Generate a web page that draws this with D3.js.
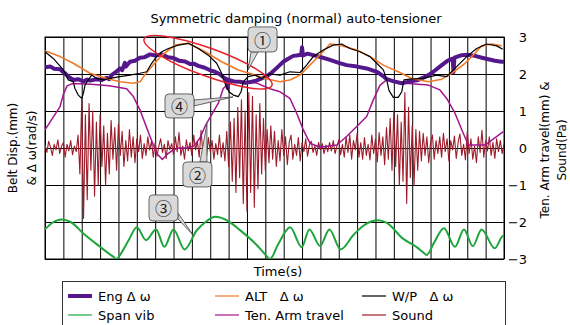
<!DOCTYPE html>
<html>
<head>
<meta charset="utf-8">
<script src="https://cdn.jsdelivr.net/npm/d3@7/dist/d3.min.js"></script>
<style>
  body { margin: 0; background: #fff; }
  svg { font-family: "DejaVu Sans", "Noto Sans", sans-serif; }
</style>
</head>
<body>
<div id="chart"></div>
<script>
// time is in grid divisions (25 of them), values on the right-hand scale
const yTicks = [3, 2, 1, 0, -1, -2, -3];
const timeTicks = d3.range(0, 26);

const engT = [0, 0.3, 0.5, 0.82, 1.0, 1.09, 1.3, 1.54, 1.8, 2.09, 2.3, 2.45, 2.8, 3.1, 3.36, 3.5, 3.63, 3.85, 4.08, 4.2, 4.35, 4.4, 4.63, 4.9, 5.17, 5.4, 5.72, 6.0, 6.36, 6.7, 7.0, 7.3, 7.63, 7.9, 8.1, 8.35, 8.7, 9.0, 9.26, 9.5, 9.8, 9.9, 9.95, 10.0, 10.3, 10.62, 10.9, 11.26, 11.5, 11.8, 12.1, 12.35, 12.7, 12.98, 13.2, 13.52, 13.7, 13.95, 14.0, 14.05, 14.3, 14.61, 15.0, 15.52, 16.0, 16.43, 17.0, 17.52, 18.07, 18.4, 18.61, 19.0, 19.43, 19.9, 20.33, 20.6, 20.88, 21.2, 21.61, 21.9, 22.2, 22.25, 22.3, 22.7, 23.0, 23.42, 23.8, 24.15, 24.5, 24.87, 25];
const engV = [2.18, 2.2, 2.14, 2.13, 2.05, 2.02, 1.92, 1.84, 1.86, 1.8, 1.85, 1.82, 1.86, 1.84, 1.9, 1.86, 1.97, 2.05, 2.15, 2.1, 2.3, 2.2, 2.33, 2.36, 2.44, 2.45, 2.53, 2.5, 2.53, 2.45, 2.43, 2.36, 2.34, 2.27, 2.28, 2.22, 2.17, 2.1, 2.06, 2.0, 1.88, 1.86, 1.62, 1.84, 1.8, 1.79, 1.76, 1.79, 1.82, 1.88, 1.95, 2.04, 2.2, 2.33, 2.4, 2.49, 2.5, 2.52, 2.72, 2.5, 2.55, 2.51, 2.46, 2.38, 2.3, 2.24, 2.2, 2.15, 2.06, 1.95, 1.86, 1.8, 1.75, 1.8, 1.84, 1.9, 1.97, 2.08, 2.24, 2.35, 2.42, 2.05, 2.44, 2.51, 2.52, 2.49, 2.44, 2.4, 2.36, 2.33, 2.33];

const altT = [0, 0.82, 1.54, 2.45, 3.36, 4.08, 4.81, 5.2, 5.4, 5.72, 6.08, 6.36, 7.08, 7.8, 8.72, 9.62, 10.53, 11.44, 12.16, 12.8, 13.34, 13.89, 14.61, 15.14, 15.52, 16.06, 16.98, 17.7, 18.43, 19.24, 19.97, 20.88, 21.61, 22.15, 22.88, 23.42, 23.78, 24.33, 24.87];
const altV = [2.63, 2.47, 2.29, 2.02, 1.88, 1.79, 1.75, 1.8, 1.95, 2.15, 2.35, 2.5, 2.78, 2.83, 2.6, 2.33, 2.11, 1.97, 1.86, 1.79, 1.84, 1.97, 2.33, 2.6, 2.81, 2.78, 2.65, 2.47, 2.24, 2.06, 1.88, 1.79, 1.86, 2.02, 2.29, 2.56, 2.76, 2.81, 2.76];

const wpT = [0, 0.45, 1.0, 1.27, 1.54, 1.63, 1.81, 2.0, 2.09, 2.18, 2.36, 2.54, 2.82, 3.18, 3.54, 4.08, 4.63, 5.17, 5.54, 5.81, 6.08, 6.36, 6.72, 7.26, 7.81, 8.35, 8.89, 9.35, 9.62, 9.8, 10.02, 10.26, 10.53, 10.68, 10.8, 11.07, 11.44, 11.8, 12.25, 12.8, 13.34, 13.89, 14.25, 14.61, 15.16, 15.7, 16.16, 16.61, 17.16, 17.7, 18.07, 18.43, 18.61, 18.74, 18.97, 19.24, 19.43, 19.55, 19.88, 20.6, 21.33, 21.88, 22.42, 22.97, 23.51, 24.06, 24.6, 24.93];
const wpV = [2.6, 2.42, 2.11, 1.84, 1.79, 1.61, 1.43, 1.34, 1.48, 1.7, 1.84, 1.97, 1.88, 1.84, 1.88, 1.93, 1.97, 2.02, 2.06, 2.29, 2.47, 2.6, 2.69, 2.78, 2.83, 2.69, 2.51, 2.29, 2.02, 1.75, 1.52, 1.43, 1.39, 1.52, 1.79, 1.93, 1.97, 1.88, 2.0, 1.97, 2.06, 2.04, 2.24, 2.47, 2.65, 2.78, 2.81, 2.69, 2.6, 2.47, 2.29, 2.11, 1.84, 1.55, 1.37, 1.37, 1.52, 1.84, 1.86, 1.88, 1.97, 1.93, 2.2, 2.47, 2.69, 2.81, 2.76, 2.67];

const spanT = [0, 0.4, 0.9, 1.4, 2.09, 3.0, 3.5, 3.7, 3.9, 4.1, 4.6, 5.0, 5.5, 6.05, 6.5, 7.0, 7.6, 8.26, 8.8, 9.26, 10.0, 10.62, 11.53, 11.95, 12.25, 12.7, 13.35, 13.98, 14.4, 14.98, 15.49, 16.1, 16.8, 17.34, 17.8, 18.15, 18.6, 19.5, 20.3, 20.6, 20.79, 21.2, 21.73, 22.33, 22.82, 23.3, 23.78, 24.5, 24.87, 25];
const spanV = [-2.2, -2.02, -1.93, -2.0, -2.31, -2.67, -2.86, -2.93, -3.0, -2.88, -2.45, -2.14, -2.49, -2.2, -2.67, -2.2, -2.74, -2.23, -1.98, -1.86, -1.98, -2.22, -2.62, -2.85, -3.0, -2.6, -2.14, -2.68, -2.2, -2.65, -2.2, -2.74, -2.35, -2.1, -1.98, -1.95, -2.02, -2.45, -2.7, -2.82, -2.89, -2.55, -2.17, -2.67, -2.2, -2.65, -2.2, -2.71, -2.41, -2.35];

const armT = [0, 0.82, 1.0, 1.2, 1.5, 2.5, 3.5, 4.45, 4.8, 5.17, 5.72, 6.08, 6.39, 6.7, 6.99, 7.3, 7.72, 8.1, 8.44, 8.75, 9.44, 9.71, 10.0, 10.5, 11.5, 12.25, 12.8, 13.34, 13.71, 14.07, 14.43, 14.98, 15.89, 16.43, 16.98, 17.52, 17.88, 18.25, 18.61, 19.61, 20.88, 21.51, 21.88, 22.33, 22.78, 23.06, 23.97, 24.96];
const armV = [0.49, 1.12, 1.45, 1.68, 1.74, 1.72, 1.68, 1.6, 1.4, 1.03, 0.31, -0.14, -0.31, -0.15, -0.05, 0.0, 0.0, 0.05, 0.27, 0.62, 1.21, 1.61, 1.75, 1.8, 1.76, 1.6, 1.52, 1.34, 0.94, 0.49, 0.13, 0.02, 0.08, 0.31, 0.58, 0.85, 1.3, 1.7, 1.84, 1.75, 1.7, 1.57, 1.34, 0.94, 0.4, 0.08, 0.08, 0.44];

// sound pressure, equally spaced over the time axis
const soundV = [
  0.08, -0.12, 0.18, 0.02, -0.2, 0.1, -0.05, 0.22, -0.15, 0.05, 0.15, -0.25, 0.1, -0.08, 0.2, -0.18, 0.05, -0.1,
  0.35, -0.7, 1.3, -1.9, 0.9, -1.4, 1.2, -0.6, 1.0, -1.3, 0.7, -1.0,
  0.9, -0.5, 0.6, -1.0, 0.4, -0.7, 0.75, -0.3, 0.55, -0.6,
  0.65, -0.2, 0.45, -0.5, 0.2, -0.35, 0.5, -0.25, 0.3, -0.4,
  0.25, -0.1, 0.35, -0.28, 0.12, -0.2, 0.3, -0.05, 0.18, -0.25,
  0.15, -0.22, 0.05, 0.25, -0.12, 0.1, -0.28, 0.2, -0.05, 0.12,
  -0.18, 0.3, -0.1, 0.42, -0.2, 0.05, -0.3, 0.22, -0.08, 0.15,
  -0.2, 0.35, -0.05, 0.18, -0.25, 0.48, -0.15, 0.1, -0.22, 0.28,
  -0.1, 0.2, -0.3, 0.12, -0.18, 0.35, -0.25, 0.15, -0.35, 0.45,
  -0.5, 0.7, -0.9, 0.8, -1.2, 1.1, -0.8, 1.3, -1.5, 1.0, -1.7, 1.5, -1.2, 1.4, -1.6, 0.9, -1.1, 1.2, -0.7, 0.8, -0.6, 0.5, -0.4, 0.6, -0.3,
  0.45, -0.5, 0.2, -0.35, 0.5, -0.2, 0.3, -0.45, 0.15, 0.35,
  -0.3, 0.1, -0.2, 0.28, -0.35, 0.15, -0.1, 0.25, -0.22, 0.08,
  0.18, -0.12, 0.05, -0.2, 0.15, -0.05, 0.12, -0.15, 0.08, -0.1,
  0.15, -0.08, 0.2, -0.15, 0.05, 0.22, -0.18, 0.1, -0.25, 0.3,
  -0.12, 0.35, -0.3, 0.2, -0.05, 0.4, -0.25, 0.15, -0.3, 0.28,
  -0.2, 0.1, -0.32, 0.35, -0.15, 0.25, -0.38, 0.42, -0.2, 0.3,
  -0.45, 0.55, -0.3, 0.8, -0.6, 1.0, -0.5, 0.9, -1.0, 0.7, -0.9, 1.5, -1.5, 1.1, -0.8, 0.6, -1.0, 0.5, -0.6, 0.45, -0.35,
  0.4, -0.2, 0.3, -0.4, 0.15, 0.35, -0.3, 0.2, -0.15, 0.3,
  -0.25, 0.4, -0.1, 0.25, -0.35, 0.2, -0.05, 0.32, -0.28, 0.15,
  0.38, -0.2, 0.1, -0.32, 0.45, -0.15, 0.25, -0.3, 0.05, -0.4,
  0.3, -0.12, 0.48, -0.25, 0.2, -0.08, 0.3, -0.2, 0.15, -0.28,
  0.25, -0.1, 0.2, -0.15, 0.1
];

const series = [
  { name: "Sound", t: d3.range(soundV.length).map(i => i * 25 / (soundV.length - 1)), v: soundV, color: "#9e1b2a", width: 1.1, curve: d3.curveLinear },
  { name: "Span vib", t: spanT, v: spanV, color: "#1ea53c", width: 2, curve: d3.curveMonotoneX },
  { name: "Ten. Arm travel", t: armT, v: armV, color: "#a3168f", width: 1.5, curve: d3.curveLinear },
  { name: "Eng", t: engT, v: engV, color: "#55188c", width: 4, curve: d3.curveLinear },
  { name: "ALT", t: altT, v: altV, color: "#f07828", width: 1.6, curve: d3.curveLinear },
  { name: "W/P", t: wpT, v: wpV, color: "#000000", width: 1.2, curve: d3.curveLinear }
];

const margin = { top: 37, right: 66, bottom: 66, left: 45 };
const width = 570 - margin.left - margin.right;
const height = 325 - margin.top - margin.bottom;

const root = d3.select("#chart")
  .append("svg")
  .attr("width", 570)
  .attr("height", 325);

const svg = root.append("g")
  .attr("transform", "translate(" + margin.left + "," + margin.top + ")");

const x = d3.scaleLinear().domain([0, 25]).range([0, width]);
const y = d3.scaleLinear().domain([-3, 3]).range([height, 0]);

// grid
const xGrid = svg.append("g")
  .attr("transform", "translate(0," + height + ")")
  .call(d3.axisBottom(x).tickValues(timeTicks).tickSize(-height).tickFormat(""));
xGrid.select(".domain").remove();
xGrid.selectAll("line").attr("stroke", "#000").attr("stroke-width", 1);

const yGrid = svg.append("g")
  .call(d3.axisLeft(y).tickValues(yTicks).tickSize(-width).tickFormat(""));
yGrid.select(".domain").remove();
yGrid.selectAll("line").attr("stroke", "#000").attr("stroke-width", 1);

svg.append("rect")
  .attr("width", width)
  .attr("height", height)
  .attr("fill", "none")
  .attr("stroke", "#000");

// lines
const clip = svg.append("clipPath").attr("id", "plotClip");
clip.append("rect").attr("width", width).attr("height", height);
const plot = svg.append("g").attr("clip-path", "url(#plotClip)");

series.forEach(s => {
  const line = d3.line()
    .x(i => x(s.t[i]))
    .y(i => y(s.v[i]))
    .curve(s.curve);
  plot.append("path")
    .datum(d3.range(s.v.length))
    .attr("fill", "none")
    .attr("stroke", s.color)
    .attr("stroke-width", s.width)
    .attr("stroke-linejoin", "round")
    .attr("d", line);
});

// right axis
const yAxis = svg.append("g")
  .attr("transform", "translate(" + width + ",0)")
  .call(d3.axisRight(y).tickValues(yTicks).tickSize(0).tickPadding(23)
    .tickFormat(d => d < 0 ? "\u2212" + Math.abs(d) : d));
yAxis.select(".domain").remove();
yAxis.selectAll("text")
  .attr("text-anchor", "end")
  .attr("font-size", 13)
  .attr("font-family", "DejaVu Sans")
  .attr("fill", "#000");

// annotations: red ellipse and numbered callouts
svg.append("ellipse")
  .attr("transform", "translate(" + x(8.88) + "," + y(2.32) + ") rotate(20)")
  .attr("rx", 68)
  .attr("ry", 14)
  .attr("fill", "none")
  .attr("stroke", "#e8202a")
  .attr("stroke-width", 1.5);

const callouts = [
  { label: "\u2460", t: 11.06, v: 2.11, box: [0, -43, 29, 25], base: [[3, -18], [10, -18]] },
  { label: "\u2463", t: 10.24, v: 1.38, box: [-68, -3, 29, 24], base: [[-39, 3], [-39, 9]] },
  { label: "\u2461", t: 8.82, v: 0.65, box: [-24, 38, 29, 25], base: [[-7, 38], [0, 38]] },
  { label: "\u2462", t: 8.06, v: -2.35, box: [-44, -40, 29, 26], base: [[-15, -22], [-15, -16]] }
];

callouts.forEach(c => {
  const g = svg.append("g")
    .attr("transform", "translate(" + x(c.t) + "," + y(c.v) + ")");
  g.append("path")
    .attr("d", "M" + c.base[0] + "L0,0L" + c.base[1] + "Z")
    .attr("fill", "#d9d9d9")
    .attr("stroke", "#444")
    .attr("stroke-width", 0.8);
  g.append("rect")
    .attr("x", c.box[0])
    .attr("y", c.box[1])
    .attr("width", c.box[2])
    .attr("height", c.box[3])
    .attr("rx", 4)
    .attr("fill", "#d9d9d9")
    .attr("stroke", "#444")
    .attr("stroke-width", 0.8);
  g.append("text")
    .attr("x", c.box[0] + c.box[2] / 2)
    .attr("y", c.box[1] + c.box[3] / 2)
    .attr("text-anchor", "middle")
    .attr("dominant-baseline", "central")
    .attr("font-family", "Noto Sans CJK JP")
    .attr("font-size", 17)
    .attr("fill", "#222")
    .text(c.label);
});

// texts
root.append("text")
  .attr("x", 296)
  .attr("y", 18)
  .attr("text-anchor", "middle")
  .attr("dominant-baseline", "central")
  .attr("font-size", 13)
  .text("Symmetric damping (normal) auto-tensioner");

root.append("text")
  .attr("x", 278)
  .attr("y", 271)
  .attr("text-anchor", "middle")
  .attr("dominant-baseline", "central")
  .attr("font-size", 13)
  .text("Time(s)");

const leftTitle = ["Belt Disp.(mm)", "& \u0394 \u03c9(rad/s)"];
leftTitle.forEach((t, i) => {
  root.append("text")
    .attr("transform", "translate(" + (13 + i * 19) + ",148) rotate(-90)")
    .attr("text-anchor", "middle")
    .attr("dominant-baseline", "central")
    .attr("font-size", 12)
    .text(t);
});

const rightTitle = ["Ten. Arm travel(mm) &", "Sound(Pa)"];
rightTitle.forEach((t, i) => {
  root.append("text")
    .attr("transform", "translate(" + (545 + i * 17) + ",150) rotate(-90)")
    .attr("text-anchor", "middle")
    .attr("dominant-baseline", "central")
    .attr("font-size", 12)
    .text(t);
});

// legend
const legendItems = [
  { label: "Eng \u0394 \u03c9", color: "#55188c", width: 4, col: 0, row: 0 },
  { label: "ALT \u00a0 \u0394 \u03c9", color: "#f07828", width: 1.2, col: 1, row: 0 },
  { label: "W/P \u00a0 \u0394 \u03c9", color: "#000000", width: 1.2, col: 2, row: 0 },
  { label: "Span vib", color: "#1ea53c", width: 1.2, col: 0, row: 1 },
  { label: "Ten. Arm travel", color: "#a3168f", width: 1.2, col: 1, row: 1 },
  { label: "Sound", color: "#9e1b2a", width: 1.2, col: 2, row: 1 }
];
const legendCols = [68, 215, 362];
const legendRows = [296, 315];

root.append("rect")
  .attr("x", 62.5)
  .attr("y", 281.5)
  .attr("width", 443)
  .attr("height", 50)
  .attr("fill", "#fff")
  .attr("stroke", "#333");

legendItems.forEach(d => {
  const lx = legendCols[d.col];
  const ly = legendRows[d.row];
  root.append("line")
    .attr("x1", lx).attr("x2", lx + 24)
    .attr("y1", ly).attr("y2", ly)
    .attr("stroke", d.color)
    .attr("stroke-width", d.width);
  root.append("text")
    .attr("x", lx + 30)
    .attr("y", ly)
    .attr("dominant-baseline", "central")
    .attr("font-size", 13)
    .text(d.label);
});
</script>
</body>
</html>
